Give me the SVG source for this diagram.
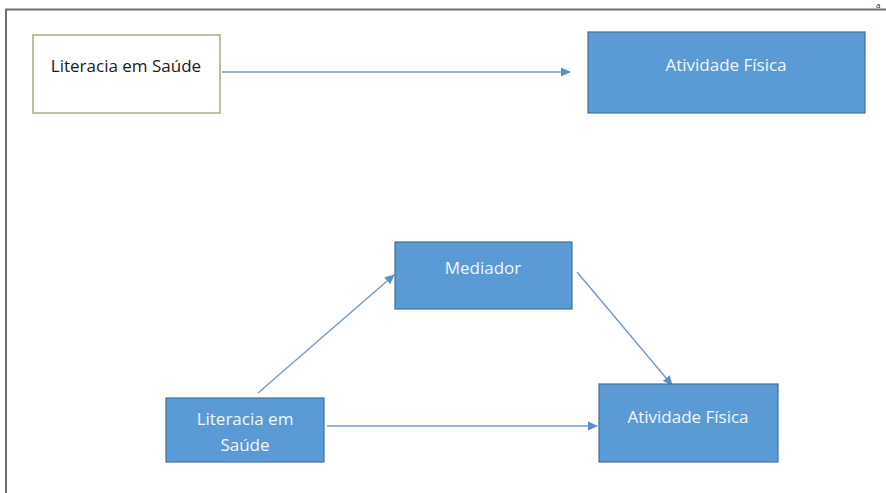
<svg xmlns="http://www.w3.org/2000/svg" width="886" height="493" viewBox="0 0 886 493">
<style>
.frame{fill:none;stroke:#6e6e6e;stroke-width:2}
.white{fill:#ffffff;stroke:#a6ad88;stroke-width:1.5}
.blue{fill:#5b9bd5;stroke:#41719c;stroke-width:1.2}
.t{font-family:"Open Sans","Noto Sans",sans-serif;font-size:17px;text-anchor:middle}
.dark{fill:#1a1a1a}
.light{fill:#f2f6fb}
.conn{stroke:#7a9cc4;stroke-width:1.5;fill:none;marker-end:url(#ah)}
</style>
<defs>
<marker id="ah" viewBox="0 0 10 10" refX="9" refY="5" markerWidth="10" markerHeight="10" markerUnits="userSpaceOnUse" orient="auto">
<path d="M0,0.5 L10,5 L0,9.5 z" fill="#5b8fc9"/>
</marker>
</defs>
<rect width="886" height="493" fill="#ffffff"/>
<path class="frame" d="M6,493 L6,9.5 L886,9.5"/>
<text x="876" y="7.5" font-family="'Open Sans',sans-serif" font-size="8" fill="#222">a</text>
<g id="connectors">
<line class="conn" x1="222" y1="72" x2="570" y2="72"/>
<line class="conn" x1="258" y1="393" x2="394" y2="275"/>
<line class="conn" x1="577" y1="272" x2="672" y2="385"/>
<line class="conn" x1="327" y1="426" x2="597" y2="426"/>
</g>
<g id="lit-top">
<rect class="white" x="33" y="35" width="187" height="78"/>
<text class="t dark" x="126" y="72">Literacia em Saúde</text>
</g>
<g id="af-top">
<rect class="blue" x="588" y="32" width="277" height="81"/>
<text class="t light" x="726" y="71">Atividade Física</text>
</g>
<g id="mediador">
<rect class="blue" x="395" y="242" width="177" height="67"/>
<text class="t light" x="483" y="274">Mediador</text>
</g>
<g id="lit-bottom">
<rect class="blue" x="166" y="398" width="158" height="64"/>
<text class="t light" x="245" y="425">Literacia em</text>
<text class="t light" x="245" y="451">Saúde</text>
</g>
<g id="af-bottom">
<rect class="blue" x="599" y="384" width="179" height="78"/>
<text class="t light" x="688" y="423">Atividade Física</text>
</g>
</svg>
